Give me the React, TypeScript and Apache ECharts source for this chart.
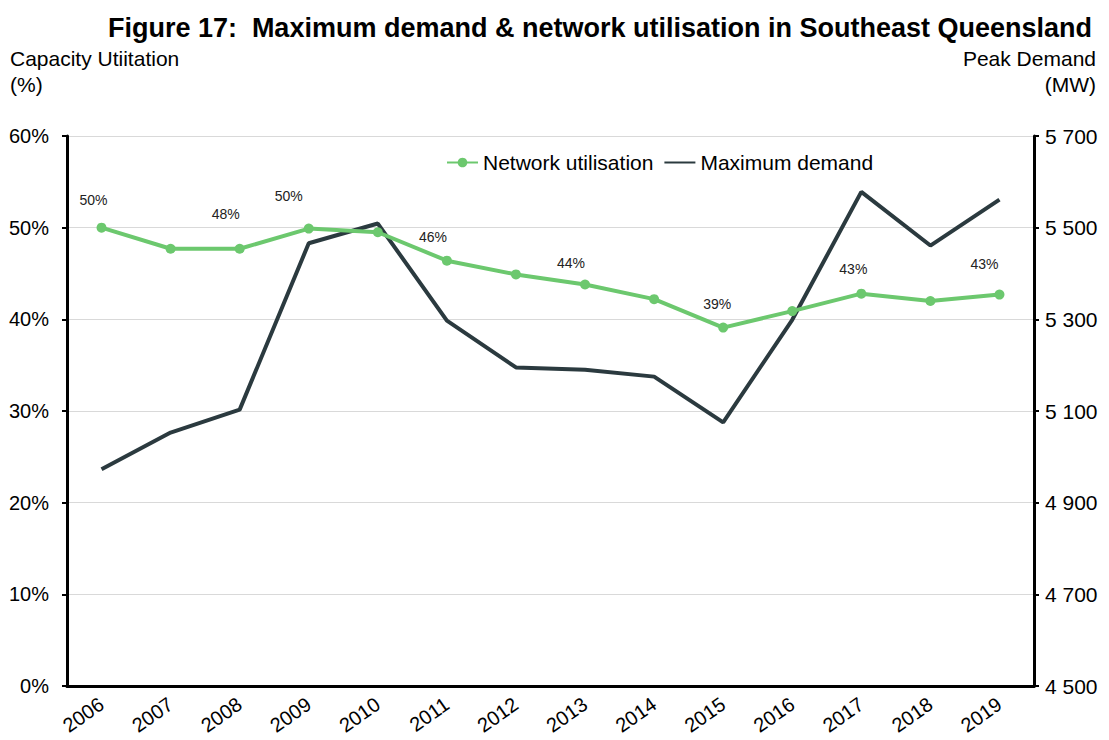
import React, { useEffect, useRef } from "react";
import * as echarts from "echarts";

const years = ["2006", "2007", "2008", "2009", "2010", "2011", "2012", "2013", "2014", "2015", "2016", "2017", "2018", "2019"];
const utilisation = [50.0, 47.7, 47.7, 49.9, 49.5, 46.4, 44.9, 43.8, 42.2, 39.1, 40.9, 42.8, 42.0, 42.7];
const maxDemand = [4973, 5053, 5103, 5466, 5509, 5297, 5195, 5190, 5175, 5075, 5299, 5578, 5461, 5561];
const labelledYears = ["2006", "2008", "2009", "2011", "2013", "2015", "2017", "2019"];
// label nudges (style only): [dx, dy]
const labelNudges: Record<string, number[]> = {
  "2006": [-8, -11],
  "2008": [-14, -18],
  "2009": [-20, -16],
  "2011": [-14, -7],
  "2013": [-14, -5],
  "2015": [-6, -7],
  "2017": [-8, -8],
  "2019": [-15, -14],
};

const FONT = "'Liberation Sans', Arial, sans-serif";
const GREEN = "#6CC86E";
const DARK = "#2B3A3F";

export default function App() {
  const ref = useRef<HTMLDivElement>(null);
  useEffect(() => {
    if (!ref.current) return;
    const chart = echarts.init(ref.current, undefined, { renderer: "svg" });
    const utilData = utilisation.map((v, i) => {
      const y = years[i];
      if (labelledYears.includes(y)) {
        return {
          value: v,
          label: {
            show: true,
            position: "top",
            distance: 5,
            offset: labelNudges[y] || [0, 0],
            formatter: (p: any) => Math.round(p.value) + "%",
            fontSize: 14,
            color: "#222",
            fontFamily: FONT,
          },
        };
      }
      return { value: v };
    });
    chart.setOption({
      animation: false,
      backgroundColor: "#ffffff",
      textStyle: { fontFamily: FONT },
      graphic: [
        { type: "text", left: 108, top: 14, style: { text: "Figure 17:", font: `bold 27px ${FONT}`, fill: "#000" } },
        { type: "text", right: 17, top: 14, style: { text: "Maximum demand & network utilisation in Southeast Queensland", font: `bold 27px ${FONT}`, fill: "#000" } },
        { type: "text", left: 10, top: 48, style: { text: "Capacity Utiitation", font: `21px ${FONT}`, fill: "#000" } },
        { type: "text", left: 10, top: 74, style: { text: "(%)", font: `21px ${FONT}`, fill: "#000" } },
        { type: "text", right: 13, top: 48, style: { text: "Peak Demand", font: `21px ${FONT}`, fill: "#000" } },
        { type: "text", right: 13, top: 74, style: { text: "(MW)", font: `21px ${FONT}`, fill: "#000" } },
      ],
      legend: {
        left: 441,
        top: 147,
        itemWidth: 31,
        itemHeight: 12,
        itemGap: 10,
        textStyle: { fontSize: 21, color: "#000", fontFamily: FONT },
        data: [
          "Network utilisation",
          { name: "Maximum demand", itemStyle: { opacity: 0, borderWidth: 0 } },
        ],
      },
      grid: { left: 67, right: 75, top: 136, bottom: 54 },
      xAxis: {
        type: "category",
        data: years,
        boundaryGap: true,
        axisLine: { lineStyle: { color: "#000", width: 3 } },
        axisTick: { show: false },
        axisLabel: { rotate: 35, fontSize: 20, color: "#000", margin: 16, fontFamily: FONT, interval: 0 },
      },
      yAxis: [
        {
          type: "value",
          min: 0,
          max: 60,
          interval: 10,
          position: "left",
          axisLine: { show: true, lineStyle: { color: "#000", width: 3 } },
          axisTick: { show: true, length: 5, lineStyle: { color: "#000", width: 2 } },
          axisLabel: { formatter: "{value}%", fontSize: 20, color: "#000", margin: 18, fontFamily: FONT },
          splitLine: { lineStyle: { color: "#D9D9D9", width: 1 } },
        },
        {
          type: "value",
          min: 4500,
          max: 5700,
          interval: 200,
          position: "right",
          axisLine: { show: true, lineStyle: { color: "#000", width: 3 } },
          axisTick: { show: true, length: 5, lineStyle: { color: "#000", width: 2 } },
          axisLabel: {
            formatter: (v: number) => String(v).replace(/\B(?=(\d{3})+(?!\d))/g, " "),
            fontSize: 21,
            color: "#000",
            margin: 11,
            fontFamily: FONT,
          },
          splitLine: { show: false },
        },
      ],
      series: [
        {
          name: "Network utilisation",
          type: "line",
          yAxisIndex: 0,
          data: utilData,
          symbol: "circle",
          symbolSize: 10,
          lineStyle: { color: GREEN, width: 4 },
          itemStyle: { color: GREEN },
          z: 3,
        },
        {
          name: "Maximum demand",
          type: "line",
          yAxisIndex: 1,
          data: maxDemand,
          symbol: "none",
          lineStyle: { color: DARK, width: 4 },
          itemStyle: { color: DARK },
          z: 2,
        },
      ],
    });
    return () => chart.dispose();
  }, []);
  return <div ref={ref} style={{ position: "fixed", left: 0, top: 0, width: 1109, height: 740 }} />;
}
